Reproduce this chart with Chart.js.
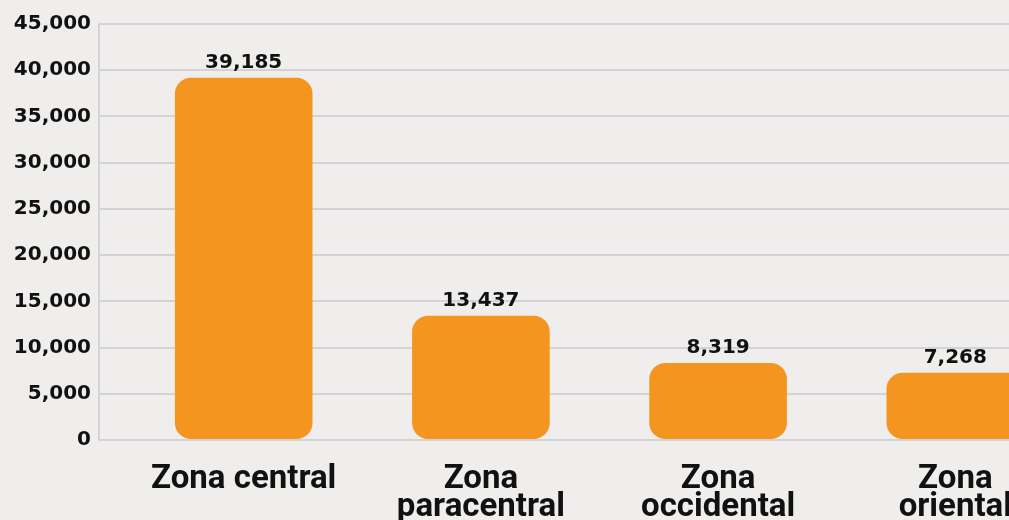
<!DOCTYPE html>
<html>
<head>
<meta charset="utf-8">
<script src="https://cdn.jsdelivr.net/npm/chart.js@4.4.1/dist/chart.umd.min.js"></script>
<style>
  html, body { margin: 0; padding: 0; background: #efeeec; overflow: hidden; }
  #caja { position: relative; width: 1100px; height: 540px; }
</style>
</head>
<body>
<div id="caja"><canvas id="grafico"></canvas></div>
<script>
// Datos del gráfico
const zonas = [['Zona central'], ['Zona', 'paracentral'], ['Zona', 'occidental'], ['Zona', 'oriental']];
const valores = [39185, 13437, 8319, 7268];
const ticksY = [0, 5000, 10000, 15000, 20000, 25000, 30000, 35000, 40000, 45000];

const naranja = '#f4951f';
const gris = '#d3d3d5';
const fuenteNum = '"DejaVu Sans", sans-serif';
const fuenteZona = 'Roboto, "Liberation Sans", sans-serif';

// Etiquetas con el valor encima de cada barra
const etiquetasValor = {
    id: 'etiquetasValor',
    afterDatasetsDraw(chart) {
        const ctx = chart.ctx;
        const meta = chart.getDatasetMeta(0);
        ctx.save();
        ctx.font = 'bold 20px ' + fuenteNum;
        ctx.fillStyle = '#111';
        ctx.textAlign = 'center';
        ctx.textBaseline = 'bottom';
        meta.data.forEach((barra, i) => {
            ctx.fillText(valores[i].toLocaleString('en-US'), barra.x, barra.y - 5);
        });
        ctx.restore();
    }
};

new Chart(document.getElementById('grafico'), {
    type: 'bar',
    data: {
        datasets: [{
            data: valores.map((v, i) => ({ x: i, y: v })),
            backgroundColor: naranja,
            borderRadius: 16,
            borderSkipped: false,
            categoryPercentage: 1,
            barPercentage: 0.58
        }]
    },
    options: {
        responsive: true,
        maintainAspectRatio: false,
        animation: false,
        layout: { padding: { top: 24, left: 0, right: 0, bottom: 0 } },
        plugins: { legend: { display: false }, tooltip: { enabled: false } },
        scales: {
            x: {
                type: 'linear',
                offset: false,
                min: -0.61,
                max: 3.61,
                afterBuildTicks: scale => { scale.ticks = zonas.map((z, i) => ({ value: i })); },
                afterFit: scale => { scale.height = 100; },
                grid: { display: false },
                border: { display: false },
                ticks: {
                    autoSkip: false,
                    maxRotation: 0,
                    padding: 18,
                    color: '#111',
                    font: { family: fuenteZona, weight: 'bold', size: 33, lineHeight: 0.84 },
                    callback: v => zonas[v]
                }
            },
            y: {
                min: 0,
                max: 45000,
                afterBuildTicks: scale => { scale.ticks = ticksY.map(v => ({ value: v })); },
                afterFit: scale => { scale.width = 99; },
                grid: { color: gris, lineWidth: 2, drawTicks: false },
                border: { color: gris, width: 2 },
                ticks: {
                    padding: 8,
                    color: '#111',
                    font: { family: fuenteNum, weight: 'bold', size: 20 },
                    callback: v => v.toLocaleString('en-US')
                }
            }
        }
    },
    plugins: [etiquetasValor]
});
</script>
</body>
</html>
